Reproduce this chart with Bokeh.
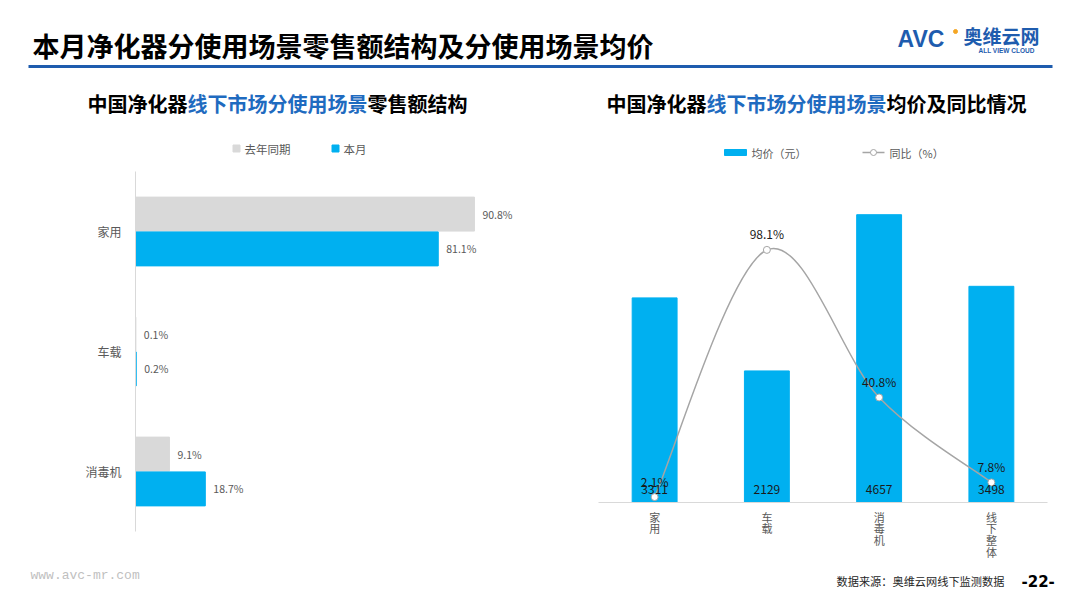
from bokeh.plotting import figure
from bokeh.models import Range1d, FactorRange, ColumnDataSource, FixedTicker
from bokeh.layouts import column, row
from bokeh.transform import dodge
from bokeh.core.properties import value
from bokeh.embed import file_html
from bokeh.resources import INLINE

# ---------------- data ----------------
scenes = ["家用", "车载", "消毒机"]
share_last_year = [90.8, 0.1, 9.1]
share_this_month = [81.1, 0.2, 18.7]

price_cats = ["家用", "车载", "消毒机", "线下整体"]
avg_price = [3311, 2129, 4657, 3498]
yoy_pct = [2.1, 98.1, 40.8, 7.8]

main_title = "本月净化器分使用场景零售额结构及分使用场景均价"
left_title = ["中国净化器", "线下市场分使用场景", "零售额结构"]
right_title = ["中国净化器", "线下市场分使用场景", "均价及同比情况"]

CJK = value("Noto Sans CJK SC")
BLUE = "#00B0F0"
GRAY = "#D9D9D9"
TXT = "#595959"
TITLE_BLUE = "#1F6BC0"
DARK_BLUE = "#1E5CAE"


def canvas(w, h, x0, x1, y_top, y_bottom, x_range=None, **kw):
    f = figure(width=w, height=h, x_range=x_range if x_range is not None else Range1d(x0, x1),
               y_range=Range1d(y_bottom, y_top),
               toolbar_location=None, output_backend="svg", x_axis_location=None,
               y_axis_location=None, min_border=0, outline_line_color=None, frame_align=False, **kw)
    f.grid.visible = False
    return f


def put(f, x, y, s, size, color="#000000", bold=False, align="left", font=CJK, style=None, baseline="middle"):
    fs = style if style else ("bold" if bold else "normal")
    f.text(x=[x], y=[y], text=[s], text_font=font, text_font_size=size, text_color=color,
           text_font_style=fs, text_align=align, text_baseline=baseline)


# ---------------- header ----------------
header = canvas(1080, 80, 0, 1080, 0, 80)
put(header, 32, 45, main_title, "27px", bold=True)
header.segment(x0=[28], y0=[66], x1=[1052], y1=[66], line_color=DARK_BLUE, line_width=3)
put(header, 897, 38, "AVC", "23px", color=DARK_BLUE, font=value("Liberation Sans"), bold=True)
header.scatter(x=[955], y=[31], size=4, color="#F5A623")
put(header, 963, 35, "奥维云网", "19px", color=DARK_BLUE, bold=True)
put(header, 978, 50, "ALL VIEW CLOUD", "6.5px", color=DARK_BLUE, bold=True, font=value("Liberation Sans"))

# ---------------- left title / legend ----------------
lt = canvas(540, 91, 0, 540, 80, 171)
cx = 87
for seg, col in zip(left_title, ["#000000", TITLE_BLUE, "#000000"]):
    put(lt, cx, 103, seg, "20px", color=col, bold=True)
    cx += 20 * len(seg)
lt.rect(x=[236], y=[148], width=7, height=7, color=GRAY)
put(lt, 244, 148, "去年同期", "11.5px", color=TXT)
lt.rect(x=[335], y=[148], width=7, height=7, color=BLUE)
put(lt, 343, 148, "本月", "11.5px", color=TXT)

# ---------------- left chart ----------------
src_l = ColumnDataSource(dict(
    cat=scenes, ly=share_last_year, tm=share_this_month,
    lyl=[f"{v}%" for v in share_last_year], tml=[f"{v}%" for v in share_this_month]))
lc = figure(width=540, height=389, y_range=FactorRange(*reversed(scenes)),
            x_range=Range1d(0, 107.15), toolbar_location=None, output_backend="svg",
            x_axis_location=None, min_border=0, min_border_left=135, min_border_right=5,
            min_border_top=0, min_border_bottom=29, outline_line_color=None, frame_align=False)
lc.grid.visible = False
lc.hbar(y=dodge("cat", 0.145, range=lc.y_range), left=0, right="ly", height=0.283,
        color=GRAY, source=src_l)
lc.hbar(y=dodge("cat", -0.145, range=lc.y_range), left=0, right="tm", height=0.283,
        color=BLUE, source=src_l)
lc.text(x="ly", y=dodge("cat", 0.145, range=lc.y_range), text="lyl", x_offset=8,
        text_baseline="middle", text_font=CJK, text_font_size="10.5px", text_color=TXT, source=src_l)
lc.text(x="tm", y=dodge("cat", -0.145, range=lc.y_range), text="tml", x_offset=8,
        text_baseline="middle", text_font=CJK, text_font_size="10.5px", text_color=TXT, source=src_l)
ya = lc.yaxis[0]
ya.axis_line_color = GRAY
ya.major_tick_line_color = None
ya.minor_tick_line_color = None
ya.major_label_text_font = "Noto Sans CJK SC"
ya.major_label_text_font_size = "12px"
ya.major_label_text_color = TXT
ya.major_label_standoff = 8

# ---------------- right title / legend ----------------
rt = canvas(540, 113, 540, 1080, 80, 193)
cx = 606
for seg, col in zip(right_title, ["#000000", TITLE_BLUE, "#000000"]):
    put(rt, cx, 103, seg, "20px", color=col, bold=True)
    cx += 20 * len(seg)
rt.rect(x=[735], y=[152], width=22, height=6, color=BLUE)
put(rt, 751, 152, "均价（元）", "11px", color=TXT)
rt.segment(x0=[862], y0=[152], x1=[884], y1=[152], line_color="#A5A5A5", line_width=1.5)
rt.scatter(x=[873], y=[152], size=6, fill_color="white", line_color="#A5A5A5")
put(rt, 889, 152, "同比（%）", "11px", color=TXT)

# ---------------- right chart ----------------
xs = [i + 0.5 for i in range(len(price_cats))]
src_r = ColumnDataSource(dict(x=xs, p=avg_price, y=yoy_pct,
                              pl=[str(v) for v in avg_price],
                              yl=[f"{v}%" for v in yoy_pct]))
rc = figure(width=540, height=315, x_range=Range1d(0, len(price_cats)), y_range=Range1d(0, 5000),
            toolbar_location=None, output_backend="svg", y_axis_location=None,
            min_border=0, min_border_left=58, min_border_right=33, min_border_top=0,
            min_border_bottom=6, outline_line_color=None, frame_align=False)
rc.extra_y_ranges = {"pct": Range1d(0, 120)}
rc.grid.visible = False
rc.vbar(x="x", top="p", bottom=0, width=0.4, color=BLUE, source=src_r)

# smooth line (Catmull-Rom -> cubic Bezier) through the YoY points
n = len(xs)
P = list(zip(xs, yoy_pct))
bx0, by0, bx1, by1, c0x, c0y, c1x, c1y = [], [], [], [], [], [], [], []
for i in range(n - 1):
    pm = P[max(i - 1, 0)]
    p0 = P[i]
    p1 = P[i + 1]
    p2 = P[min(i + 2, n - 1)]
    bx0.append(p0[0]); by0.append(p0[1]); bx1.append(p1[0]); by1.append(p1[1])
    c0x.append(p0[0] + (p1[0] - pm[0]) / 6); c0y.append(p0[1] + (p1[1] - pm[1]) / 6)
    c1x.append(p1[0] - (p2[0] - p0[0]) / 6); c1y.append(p1[1] - (p2[1] - p0[1]) / 6)
rc.bezier(x0=bx0, y0=by0, x1=bx1, y1=by1, cx0=c0x, cy0=c0y, cx1=c1x, cy1=c1y,
          line_color="#A5A5A5", line_width=1.5, y_range_name="pct")
rc.scatter(x="x", y="y", size=7, fill_color="white", line_color="#A5A5A5", line_width=1,
           y_range_name="pct", source=src_r)

rc.text(x="x", y=0, text="pl", y_offset=-13, text_align="center", text_baseline="middle",
        text_font=CJK, text_font_size="12px", text_color="#1A1A1A", source=src_r)
rc.text(x="x", y="y", text="yl", y_offset=-16, text_align="center", text_baseline="middle",
        text_font=CJK, text_font_size="12px", text_color="#1A1A1A", y_range_name="pct", source=src_r)

xa = rc.xaxis[0]
xa.ticker = FixedTicker(ticks=xs)
xa.axis_line_color = GRAY
xa.major_tick_line_color = None
xa.minor_tick_line_color = None
xa.major_tick_out = 0
xa.major_tick_in = 0
xa.major_label_text_font_size = "1px"
xa.major_label_text_color = None
xa.major_label_standoff = 0

# vertical (stacked) category labels, on the same x scale as the chart
rl = canvas(540, 52, 0, 0, 508, 560, x_range=rc.x_range,
            min_border_left=58, min_border_right=33)
lab_x, lab_ch, lab_y = [], [], []
for x, c in zip(xs, price_cats):
    for k, ch in enumerate(c):
        lab_x.append(x)
        lab_ch.append(ch)
        lab_y.append(516 + 11.8 * k)
rl.text(x=lab_x, y=lab_y, text=lab_ch, text_align="center", text_baseline="middle",
        text_font=CJK, text_font_size="11px", text_color=TXT)

# ---------------- footer ----------------
footer = canvas(1080, 48, 0, 1080, 560, 608)
put(footer, 30, 575, "www.avc-mr.com", "13px", color="#BFBFBF", font=value("Liberation Mono"))
put(footer, 836, 580, "数据来源：奥维云网线下监测数据", "11.2px", color="#262626")
put(footer, 1021, 580, "-22-", "15px", color="#000000", bold=True, font=value("DejaVu Sans"))

layout = column(header, row(column(lt, lc), column(rt, rc, rl)), footer)

with open("out.html", "w") as fh:
    fh.write(file_html(layout, INLINE))
